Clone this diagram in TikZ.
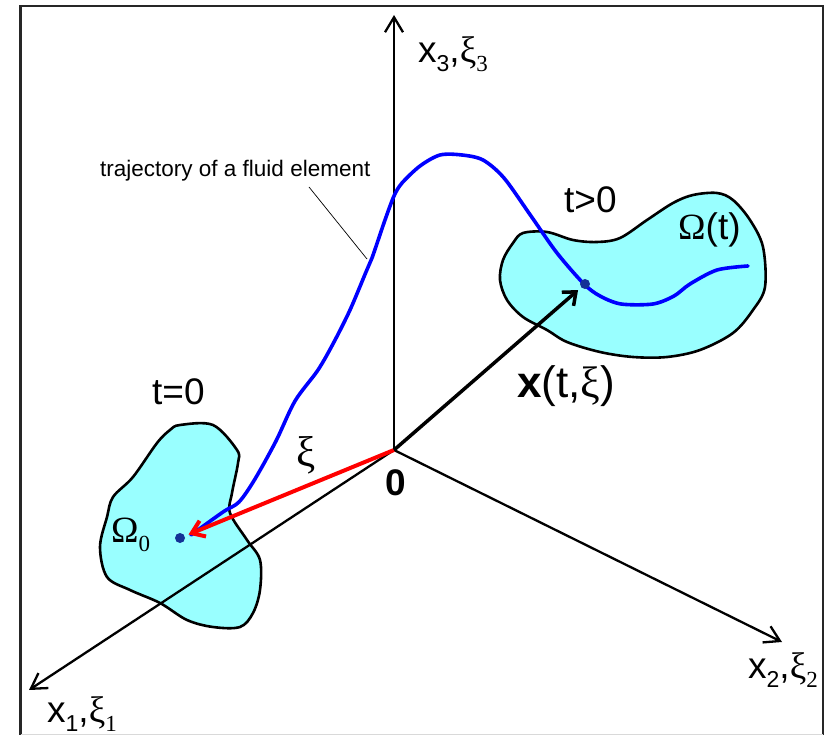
\documentclass[tikz,border=0pt]{standalone}
\usepackage{fontspec}
\setmainfont{Liberation Sans}
\newfontfamily\grk{Liberation Serif}
\usetikzlibrary{arrows.meta}
\definecolor{blobfill}{RGB}{153,255,255}
\definecolor{dotblue}{RGB}{20,50,150}
\newcommand\lowsub[1]{\raisebox{-9pt}{\fontsize{23}{23}\selectfont #1}}
\begin{document}
\begin{tikzpicture}[x=1pt,y=-1pt,
  axisline/.style={line width=2.3pt, -{Straight Barb[length=15pt,width=18pt]}},
  blob/.style={fill=blobfill, draw=black, line width=2.6pt, line join=round},
  traj/.style={draw=blue, line width=3.6pt, line join=round, line cap=round},
  lbl/.style={inner sep=0pt, anchor=base west, font=\fontsize{37}{40}\selectfont},
  pdot/.style={circle, fill=dotblue, inner sep=0pt, minimum size=10pt}]
\useasboundingbox (0,0) rectangle (828,735);
% frame
\draw[line width=2.8pt, black!85] (20.5,735) -- (20.5,6) -- (823,6) -- (823,735);
\draw[line width=1pt, black!15] (20.5,734) -- (823,734);
% coordinates
\coordinate (O) at (394,450);
\coordinate (X3) at (394,15);
\coordinate (X1) at (29,690);
\coordinate (X2) at (782,642);
\coordinate (L1) at (309,187);
\coordinate (L2) at (367,259);
% blobs
\draw[blob] plot[smooth cycle, tension=0.55] coordinates {
 (180,425) (213,425) (237,450) (238,463) (232,493) (230,513) (247,540) (260,560)
 (260,590) (253,613) (240,627) (213,627) (187,620) (160,603) (130,590) (107,577)
 (100,547) (107,517) (113,497) (133,477) (157,443) (170,430)};
\draw[blob] plot[smooth cycle, tension=0.55] coordinates {
 (523,233) (547,232) (573,240) (597,242) (620,238) (647,220) (673,203) (693,195)
 (717,193) (733,200) (750,220) (763,247) (765,287) (753,310) (733,333) (700,350)
 (667,357) (633,357) (600,352) (567,342) (547,330) (523,317) (507,300) (500,280)
 (503,260) (513,243)};
% axes
\draw[axisline] (O) -- (X3);
\draw[axisline] (O) -- (X1);
\draw[axisline] (O) -- (X2);
% trajectory
\draw[traj] plot[smooth, tension=0.5] coordinates {
 (191,535) (223,512) (239,502) (255,479) (276,441) (295,401) (318,370) (334,342)
 (350,310) (366,272) (372,258) (385,220) (394,196) (402,183) (420,166) (440,155)
 (462,155) (483,160) (504,178) (531,216) (557,253) (584,284) (600,296) (621,304)
 (653,304) (674,296) (690,284) (717,270) (748,266)};
% points
\node[pdot] (P0) at (180,538) {};
\node[pdot] (Pt) at (585,284) {};
% vectors
\draw[line width=4pt, red, -{Straight Barb[length=12pt,width=17pt]}, shorten >=4pt] (O) -- (P0);
\draw[line width=3.5pt, black, -{Straight Barb[length=11pt,width=18pt]}, shorten >=4pt] (O) -- (Pt);
% leader
\draw[line width=0.7pt] (L1) -- (L2);
% labels
\node[lbl] (lx3) at (418,63) {x\lowsub{3},{\grk ξ}\lowsub{\grk 3}};
\node[lbl] (lx1) at (47,722) {x\lowsub{1},{\grk ξ}\lowsub{\grk 1}};
\node[lbl] (lx2) at (748,678) {x\lowsub{2},{\grk ξ}\lowsub{\grk 2}};
\node[lbl] (lt0) at (152,405) {t=0};
\node[lbl] (ltp) at (564,213) {t>0};
\node[lbl] (lOt) at (678,240) {{\grk Ω}(t)};
\node[lbl] (lO0) at (111,542) {{\grk Ω}\lowsub{\grk 0}};
\node[lbl, font=\fontsize{44}{48}\selectfont] (lx) at (517,398) {\textbf{x}(t,{\grk ξ})};
\node[lbl, font=\fontsize{43}{46}\selectfont] (lxi) at (296,466) {{\grk ξ}};
\node[lbl] (l0) at (385,495) {\textbf{0}};
\node[lbl, font=\fontsize{22.5}{24}\selectfont] (ltraj) at (100,177) {trajectory of a fluid element};
\end{tikzpicture}
\end{document}
